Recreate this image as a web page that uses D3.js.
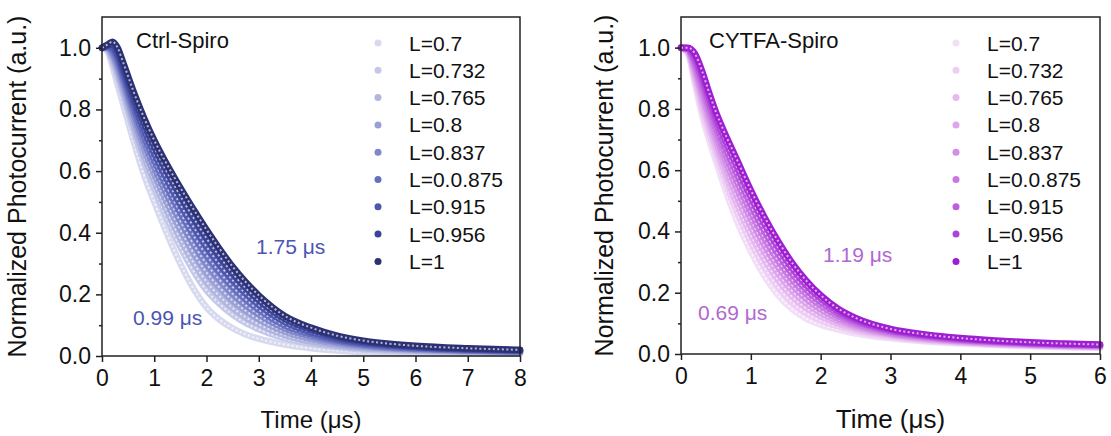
<!DOCTYPE html>
<html>
<head>
<meta charset="utf-8">
<script src="https://cdn.jsdelivr.net/npm/d3@7"></script>
<style>
  body { margin: 0; background: #fff; }
  svg { display: block; font-family: Arial, "Liberation Sans", sans-serif; }
</style>
</head>
<body>
<svg width="1111" height="436"></svg>
<script>
// values
var legendLabels = ["L=0.7", "L=0.732", "L=0.765", "L=0.8", "L=0.837", "L=0.0.875", "L=0.915", "L=0.956", "L=1"];
var yTicks = [0, 0.2, 0.4, 0.6, 0.8, 1.0];
var yMinor = [0.1, 0.3, 0.5, 0.7, 0.9];

// Ctrl-Spiro, time in us
var ctrlTime = [0, 0.1, 0.2, 0.3, 0.4, 0.6, 0.8, 1.0, 1.2, 1.4, 1.6, 1.8, 2.0, 2.25, 2.5, 2.75, 3.0, 3.5, 4.0, 4.5, 5.0, 5.5, 6.0, 7.0, 8.0];
var ctrlL0700 = [1.00, 0.99, 0.94, 0.88, 0.82, 0.70, 0.59, 0.50, 0.415, 0.335, 0.265, 0.205, 0.158, 0.118, 0.09, 0.07, 0.056, 0.037, 0.025, 0.018, 0.013, 0.011, 0.010, 0.008, 0.007];
var ctrlL0732 = [1.00, 0.994, 0.958, 0.906, 0.85, 0.735, 0.631, 0.544, 0.463, 0.388, 0.321, 0.262, 0.213, 0.169, 0.134, 0.107, 0.087, 0.057, 0.040, 0.029, 0.021, 0.017, 0.015, 0.012, 0.010];
var ctrlL0765 = [1.00, 0.997, 0.966, 0.92, 0.865, 0.753, 0.651, 0.566, 0.488, 0.414, 0.348, 0.29, 0.241, 0.194, 0.156, 0.126, 0.103, 0.068, 0.047, 0.034, 0.025, 0.021, 0.018, 0.014, 0.011];
var ctrlL0800 = [1.00, 1.00, 0.976, 0.934, 0.881, 0.772, 0.673, 0.59, 0.514, 0.443, 0.379, 0.321, 0.271, 0.222, 0.18, 0.147, 0.119, 0.079, 0.055, 0.040, 0.030, 0.024, 0.020, 0.016, 0.013];
var ctrlL0837 = [1.00, 1.00, 0.985, 0.947, 0.896, 0.79, 0.694, 0.612, 0.538, 0.469, 0.407, 0.35, 0.299, 0.247, 0.202, 0.165, 0.135, 0.089, 0.063, 0.045, 0.034, 0.027, 0.023, 0.018, 0.014];
var ctrlL0875 = [1.00, 1.003, 0.994, 0.96, 0.91, 0.807, 0.714, 0.634, 0.562, 0.496, 0.435, 0.378, 0.327, 0.272, 0.224, 0.184, 0.15, 0.099, 0.070, 0.050, 0.038, 0.030, 0.025, 0.019, 0.016];
var ctrlL0915 = [1.00, 1.006, 1.002, 0.974, 0.925, 0.825, 0.734, 0.656, 0.587, 0.522, 0.462, 0.406, 0.355, 0.297, 0.246, 0.203, 0.166, 0.11, 0.077, 0.055, 0.042, 0.034, 0.028, 0.021, 0.017];
var ctrlL0956 = [1.00, 1.008, 1.011, 0.987, 0.94, 0.842, 0.755, 0.678, 0.611, 0.549, 0.49, 0.435, 0.382, 0.323, 0.268, 0.221, 0.181, 0.12, 0.085, 0.061, 0.046, 0.037, 0.030, 0.023, 0.019];
var ctrlL1000 = [1.00, 1.01, 1.02, 1.00, 0.955, 0.86, 0.775, 0.70, 0.635, 0.575, 0.518, 0.463, 0.41, 0.348, 0.29, 0.24, 0.197, 0.13, 0.092, 0.066, 0.050, 0.040, 0.033, 0.025, 0.020];

// CYTFA-Spiro, time in us
var cytfaTime = [0, 0.1, 0.2, 0.3, 0.4, 0.5, 0.6, 0.8, 1.0, 1.2, 1.4, 1.6, 1.8, 2.0, 2.25, 2.5, 3.0, 3.5, 4.0, 4.5, 5.0, 5.5, 6.0];
var cytfaL0700 = [1.00, 0.98, 0.88, 0.78, 0.70, 0.63, 0.56, 0.435, 0.335, 0.253, 0.19, 0.145, 0.115, 0.096, 0.08, 0.067, 0.051, 0.041, 0.034, 0.029, 0.025, 0.022, 0.020];
var cytfaL0732 = [1.00, 0.983, 0.895, 0.80, 0.723, 0.654, 0.587, 0.465, 0.365, 0.282, 0.216, 0.167, 0.133, 0.11, 0.09, 0.075, 0.056, 0.044, 0.037, 0.031, 0.027, 0.024, 0.022];
var cytfaL0765 = [1.00, 0.986, 0.908, 0.82, 0.743, 0.675, 0.61, 0.49, 0.39, 0.306, 0.239, 0.186, 0.149, 0.123, 0.099, 0.082, 0.060, 0.047, 0.039, 0.033, 0.029, 0.025, 0.023];
var cytfaL0800 = [1.00, 0.99, 0.92, 0.838, 0.762, 0.694, 0.63, 0.515, 0.415, 0.33, 0.26, 0.205, 0.164, 0.134, 0.107, 0.088, 0.064, 0.050, 0.041, 0.035, 0.030, 0.027, 0.024];
var cytfaL0837 = [1.00, 0.992, 0.932, 0.855, 0.78, 0.713, 0.651, 0.54, 0.44, 0.353, 0.281, 0.223, 0.179, 0.146, 0.115, 0.094, 0.067, 0.053, 0.043, 0.037, 0.032, 0.028, 0.026];
var cytfaL0875 = [1.00, 0.994, 0.944, 0.872, 0.80, 0.732, 0.672, 0.563, 0.463, 0.376, 0.302, 0.241, 0.194, 0.158, 0.124, 0.10, 0.071, 0.056, 0.045, 0.039, 0.033, 0.030, 0.027];
var cytfaL0915 = [1.00, 0.996, 0.956, 0.89, 0.818, 0.752, 0.693, 0.587, 0.487, 0.399, 0.323, 0.259, 0.208, 0.169, 0.132, 0.106, 0.075, 0.058, 0.047, 0.040, 0.035, 0.031, 0.028];
var cytfaL0956 = [1.00, 0.998, 0.968, 0.907, 0.837, 0.771, 0.714, 0.611, 0.511, 0.422, 0.344, 0.277, 0.223, 0.181, 0.14, 0.112, 0.078, 0.061, 0.050, 0.042, 0.036, 0.032, 0.030];
var cytfaL1000 = [1.00, 1.00, 0.98, 0.925, 0.855, 0.79, 0.735, 0.635, 0.535, 0.445, 0.365, 0.295, 0.238, 0.192, 0.148, 0.118, 0.082, 0.064, 0.052, 0.044, 0.038, 0.034, 0.031];

var ctrlColors = ["#d7daef", "#c5c9e9", "#b1b6e0", "#9aa0d6", "#8087ca", "#666ebe", "#4e56ae", "#3c4395", "#2b3174"];
var cytfaColors = ["#f3def8", "#edcdf4", "#e5b9f0", "#dca5ec", "#d28fe7", "#c878e3", "#bb5fde", "#ad43d8", "#9e1ed2"];

var svg = d3.select("svg");

function drawPanel(o) {
    var x = d3.scaleLinear().domain([0, o.xMax]).range([o.left, o.right]);
    var y = d3.scaleLinear().domain([0, 1.1]).range([o.bottom, o.top]);
    var g = svg.append("g");

    var line = d3.line()
        .x(function (d) { return x(d[0]); })
        .y(function (d) { return y(d[1]); })
        .curve(d3.curveMonotoneX);

    o.series.forEach(function (vals, i) {
        var pts = o.time.map(function (t, j) { return [t, vals[j]]; });
        g.append("path")
            .attr("d", line(pts))
            .attr("fill", "none")
            .attr("stroke", o.colors[i])
            .attr("stroke-width", 6.5)
            .attr("stroke-linecap", "round");
        // open-circle centres
        g.append("path")
            .attr("d", line(pts))
            .attr("fill", "none")
            .attr("stroke", "#fff")
            .attr("stroke-opacity", 0.65)
            .attr("stroke-width", 2)
            .attr("stroke-dasharray", "2,2.5");
    });

    // frame
    g.append("rect")
        .attr("x", o.left).attr("y", o.top)
        .attr("width", o.right - o.left).attr("height", o.bottom - o.top)
        .attr("fill", "none").attr("stroke", "#222").attr("stroke-width", 1.5);

    var xAxis = g.append("g")
        .attr("transform", "translate(0," + o.bottom + ")")
        .call(d3.axisBottom(x).tickValues(d3.range(0, o.xMax + 1)).tickFormat(d3.format("d")).tickSize(6).tickPadding(8));
    var yAxis = g.append("g")
        .attr("transform", "translate(" + o.left + ",0)")
        .call(d3.axisLeft(y).tickValues(yTicks).tickFormat(d3.format(".1f")).tickSize(6).tickPadding(5));
    var yAxisMinor = g.append("g")
        .attr("transform", "translate(" + o.left + ",0)")
        .call(d3.axisLeft(y).tickValues(yMinor).tickFormat("").tickSize(3));

    [xAxis, yAxis, yAxisMinor].forEach(function (a) {
        a.select(".domain").remove();
        a.selectAll("line").attr("stroke", "#222").attr("stroke-width", 1.5);
        a.selectAll("text").attr("fill", "#111").style("font-size", "23px");
    });

    g.append("text")
        .attr("x", (o.left + o.right) / 2).attr("y", 428)
        .attr("text-anchor", "middle")
        .style("font-size", o.xTitleSize + "px")
        .attr("fill", "#111")
        .text("Time (μs)");

    g.append("text")
        .attr("transform", "translate(" + o.yTitleX + "," + (o.top + o.bottom) / 2 + ") rotate(-90)")
        .attr("text-anchor", "middle")
        .style("font-size", "25px")
        .attr("fill", "#111")
        .text("Normalized Photocurrent (a.u.)");

    g.append("text")
        .attr("x", o.titleX).attr("y", 48)
        .style("font-size", "22px")
        .attr("fill", "#111")
        .text(o.title);

    var leg = g.append("g");
    legendLabels.forEach(function (lab, i) {
        var cy = 43 + i * 27.3;
        leg.append("circle")
            .attr("cx", o.legendX).attr("cy", cy).attr("r", 3.5)
            .attr("fill", o.colors[i]);
        leg.append("text")
            .attr("x", o.legendX + 31).attr("y", cy + 7.5)
            .style("font-size", "21px")
            .attr("fill", "#111")
            .text(lab);
    });

    o.notes.forEach(function (n) {
        g.append("text")
            .attr("x", n.x).attr("y", n.y)
            .style("font-size", "21px")
            .attr("fill", o.noteColor)
            .text(n.text);
    });
}

drawPanel({
    left: 102, right: 520, top: 17, bottom: 356, xMax: 8,
    time: ctrlTime,
    series: [ctrlL0700, ctrlL0732, ctrlL0765, ctrlL0800, ctrlL0837, ctrlL0875, ctrlL0915, ctrlL0956, ctrlL1000],
    colors: ctrlColors,
    title: "Ctrl-Spiro", titleX: 136,
    legendX: 378, yTitleX: 26, xTitleSize: 24,
    noteColor: "#4b55b5",
    notes: [{ x: 256, y: 254, text: "1.75 μs" }, { x: 133, y: 325, text: "0.99 μs" }]
});

drawPanel({
    left: 681, right: 1100, top: 17, bottom: 354, xMax: 6,
    time: cytfaTime,
    series: [cytfaL0700, cytfaL0732, cytfaL0765, cytfaL0800, cytfaL0837, cytfaL0875, cytfaL0915, cytfaL0956, cytfaL1000],
    colors: cytfaColors,
    title: "CYTFA-Spiro", titleX: 709,
    legendX: 956, yTitleX: 613, xTitleSize: 26,
    noteColor: "#b168d2",
    notes: [{ x: 823, y: 262, text: "1.19 μs" }, { x: 698, y: 320, text: "0.69 μs" }]
});
</script>
</body>
</html>
